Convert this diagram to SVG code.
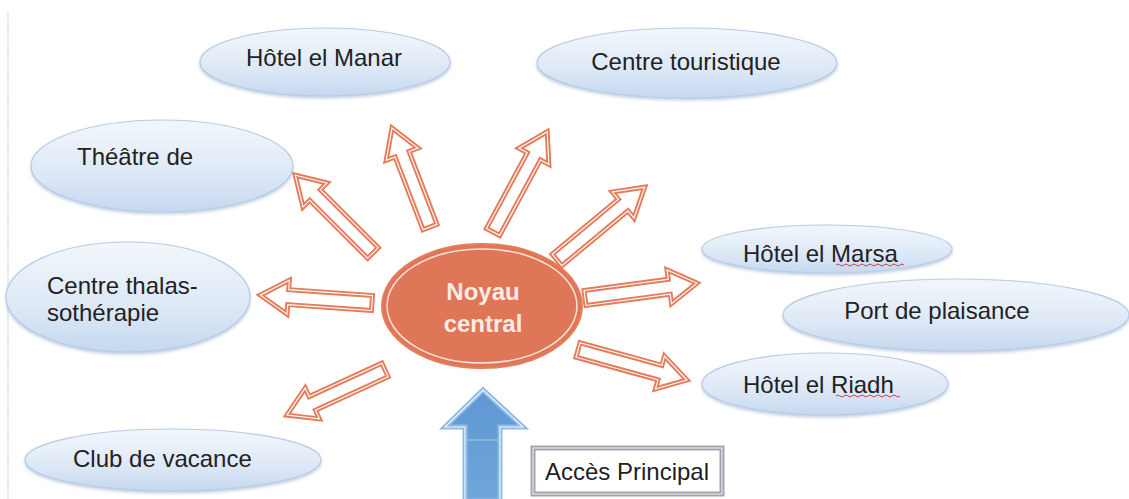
<svg xmlns="http://www.w3.org/2000/svg" width="1129" height="499" viewBox="0 0 1129 499">
<style>
.lbl{font-family:"Liberation Sans",Arial,sans-serif;font-size:24px;fill:#222}
.bub{fill:url(#bg);stroke:#b9cce6;stroke-width:1.2;filter:url(#sh)}
.arr{fill:#fff;stroke:#e47d5c;stroke-width:5;stroke-linejoin:miter}
.arrIn{fill:none;stroke:#fff;stroke-width:1.1;stroke-linejoin:miter}
.core{font-family:"Liberation Sans",Arial,sans-serif;font-size:24px;font-weight:bold;fill:#fbece4;text-anchor:middle}
.sq{fill:none;stroke:#d04050;stroke-width:1}
</style>
<defs>
<linearGradient id="bg" x1="0" y1="0" x2="0" y2="1">
<stop offset="0" stop-color="#f3f7fc"/>
<stop offset="0.6" stop-color="#dde8f6"/>
<stop offset="1" stop-color="#c5d8ef"/>
</linearGradient>
<linearGradient id="blue" x1="0" y1="0" x2="0" y2="1">
<stop offset="0" stop-color="#5e97d2"/>
<stop offset="1" stop-color="#6fa6db"/>
</linearGradient>
<filter id="sh" x="-10%" y="-20%" width="120%" height="150%">
<feGaussianBlur in="SourceAlpha" stdDeviation="1.5"/>
<feOffset dx="0" dy="2" result="b"/>
<feFlood flood-color="#8aa3c4" flood-opacity="0.5"/>
<feComposite in2="b" operator="in"/>
<feMerge><feMergeNode/><feMergeNode in="SourceGraphic"/></feMerge>
</filter>
</defs>
<rect width="1129" height="499" fill="#fff"/>
<line x1="8" y1="12" x2="8" y2="499" stroke="#c8c8cc" stroke-width="1" stroke-dasharray="2 1"/>

<g id="connectors">
<g transform="translate(373,253) rotate(-135)"><path class="arr" d="M0,-7.5 H82 V-17 L110,0 L82,17 V7.5 H0 Z"/><path class="arrIn" d="M0,-7.5 H82 V-17 L110,0 L82,17 V7.5 H0 Z"/></g>
<g transform="translate(430,227) rotate(-111)"><path class="arr" d="M0,-7.5 H78 V-17 L106,0 L78,17 V7.5 H0 Z"/><path class="arrIn" d="M0,-7.5 H78 V-17 L106,0 L78,17 V7.5 H0 Z"/></g>
<g transform="translate(493,232) rotate(-61.6)"><path class="arr" d="M0,-7.5 H86 V-17 L114,0 L86,17 V7.5 H0 Z"/><path class="arrIn" d="M0,-7.5 H86 V-17 L114,0 L86,17 V7.5 H0 Z"/></g>
<g transform="translate(557,260) rotate(-39.7)"><path class="arr" d="M0,-7.5 H86 V-17 L114,0 L86,17 V7.5 H0 Z"/><path class="arrIn" d="M0,-7.5 H86 V-17 L114,0 L86,17 V7.5 H0 Z"/></g>
<g transform="translate(585,298) rotate(-7.6)"><path class="arr" d="M0,-7.5 H85 V-17 L113,0 L85,17 V7.5 H0 Z"/><path class="arrIn" d="M0,-7.5 H85 V-17 L113,0 L85,17 V7.5 H0 Z"/></g>
<g transform="translate(578,350) rotate(15.4)"><path class="arr" d="M0,-7.5 H85 V-17 L113,0 L85,17 V7.5 H0 Z"/><path class="arrIn" d="M0,-7.5 H85 V-17 L113,0 L85,17 V7.5 H0 Z"/></g>
<g transform="translate(372,303) rotate(184)"><path class="arr" d="M0,-7.5 H84 V-17 L112,0 L84,17 V7.5 H0 Z"/><path class="arrIn" d="M0,-7.5 H84 V-17 L112,0 L84,17 V7.5 H0 Z"/></g>
<g transform="translate(385,370) rotate(155.3)"><path class="arr" d="M0,-7.5 H80 V-17 L108,0 L80,17 V7.5 H0 Z"/><path class="arrIn" d="M0,-7.5 H80 V-17 L108,0 L80,17 V7.5 H0 Z"/></g>
<g id="acces-arrow">
<path d="M465,501 V427 H445 L483,390 L523,427 H500 V501 Z" fill="url(#blue)" stroke="#8dbbe6" stroke-width="5" stroke-linejoin="miter"/>
<path d="M465,501 V427 H445 L483,390 L523,427 H500 V501 Z" fill="none" stroke="#f4f8fd" stroke-width="1.1"/>
<line x1="467" y1="440" x2="498" y2="440" stroke="#a9c9ea" stroke-width="1"/>
</g>
</g>

<g id="noyau">
<ellipse cx="482" cy="306" rx="100" ry="62" fill="#df7658" stroke="#e47d5c" stroke-width="2"/>
<ellipse cx="482" cy="306" rx="95" ry="57" fill="none" stroke="#fbe4d8" stroke-width="1.5"/>
<text class="core" x="483" y="300">Noyau</text>
<text class="core" x="483" y="332">central</text>
</g>

<g id="manar">
<ellipse class="bub" cx="325" cy="62" rx="125" ry="34"/>
<text class="lbl" x="324" y="66" text-anchor="middle">Hôtel el Manar</text>
</g>
<g id="touristique">
<ellipse class="bub" cx="687" cy="63" rx="150" ry="35"/>
<text class="lbl" x="686" y="70" text-anchor="middle">Centre touristique</text>
</g>
<g id="theatre">
<ellipse class="bub" cx="162" cy="166" rx="131" ry="46"/>
<text class="lbl" x="77" y="165">Théâtre de</text>
</g>
<g id="thalasso">
<ellipse class="bub" cx="128" cy="297" rx="122" ry="55"/>
<text class="lbl" x="47" y="294">Centre thalas-</text>
<text class="lbl" x="47" y="321">sothérapie</text>
</g>
<g id="club">
<ellipse class="bub" cx="173" cy="460" rx="148" ry="31"/>
<text class="lbl" x="73" y="467">Club de vacance</text>
</g>
<g id="marsa">
<ellipse class="bub" cx="827" cy="249" rx="125" ry="24"/>
<text class="lbl" x="743" y="262">Hôtel el Marsa</text>
<path class="sq" d="M836,265 q2,-2 4,0 t4,0 t4,0 t4,0 t4,0 t4,0 t4,0 t4,0 t4,0 t4,0 t4,0 t4,0 t4,0 t4,0 t4,0 t4,0 t4,0"/>
</g>
<g id="port">
<ellipse class="bub" cx="956" cy="315" rx="173" ry="36"/>
<text class="lbl" x="937" y="319" text-anchor="middle">Port de plaisance</text>
</g>
<g id="riadh">
<ellipse class="bub" cx="825" cy="384" rx="123" ry="31"/>
<text class="lbl" x="743" y="393">Hôtel el Riadh</text>
<path class="sq" d="M836,396 q2,-2 4,0 t4,0 t4,0 t4,0 t4,0 t4,0 t4,0 t4,0 t4,0 t4,0 t4,0 t4,0 t4,0 t4,0 t4,0 t4,0"/>
</g>
<g id="acces">
<rect x="533" y="448" width="189" height="46" fill="#fff" stroke="#a3a3ad" stroke-width="5"/>
<rect x="533" y="448" width="189" height="46" fill="none" stroke="#f2f2f4" stroke-width="1"/>
<text class="lbl" x="627" y="480" text-anchor="middle">Accès Principal</text>
</g>
</svg>
